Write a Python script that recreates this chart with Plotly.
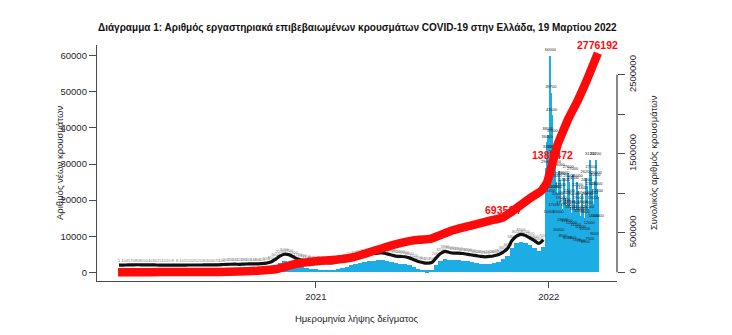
import pandas as pd
import numpy as np
import plotly.graph_objects as go

# ---------------- data ----------------
# weekly mean of new cases per day, weeks starting 2020-02-24 ... 2021-12-20
weekly_cases = [
    1, 10, 45, 70, 85, 80, 50, 40, 30, 15,
    10, 10, 8, 8, 10, 15, 20, 25, 25, 30,
    30, 40, 70, 130, 200, 230, 240, 220, 280, 310,
    340, 360, 420, 550, 850, 1600, 2500, 3000, 2900, 2300,
    1700, 1400, 1100, 850, 800,
    750, 700, 600, 650, 950, 1250, 1500, 1900, 2200, 2600,
    2900, 3100, 3200, 3300, 3400, 3100, 2800, 2500, 2400, 2300,
    2000, 1500, 1000, 700, 550, 700, 2000, 3200, 3800, 3500,
    3300, 3300, 3200, 3000, 2800, 2600, 2400, 2300, 2400, 2600,
    2900, 3600, 4600, 6800, 8000, 8500, 8200, 7500, 6800, 6000,
    7000,
]
weekly_start = "2020-02-24"

# daily new cases, 2021-12-27 ... 2022-03-19
daily_cases = [
    22000, 29000, 36000, 38000, 33000, 15000, 21000,
    60000, 49700, 43500, 37500, 33000, 22000, 17000,
    31800, 29000, 25000, 22000, 20000, 15000, 10000,
    28000, 25500, 22500, 19000, 17500, 13000, 8500,
    26000, 24000, 20500, 18500, 17000, 12500, 8000,
    27600, 25000, 21000, 18000, 16500, 12000, 7800,
    27000, 24500, 20000, 17500, 16000, 11500, 7400,
    25000, 22500, 19000, 16500, 15500, 11000, 7200,
    21800, 20500, 18000, 16000, 15000, 10500, 6900,
    26200, 24000, 20000, 17500, 16500, 12000, 7500,
    31200, 27500, 23000, 20500, 19000, 14000, 9000,
    25400, 31200, 26000, 23000, 21000, 14000,
]
daily_start = "2021-12-27"

# cumulative cases (right axis)
cum_dates = [
    "2020-02-26", "2020-04-01", "2020-05-01", "2020-06-01", "2020-07-01",
    "2020-08-01", "2020-09-01", "2020-10-01", "2020-11-01", "2020-12-01",
    "2021-01-01", "2021-02-01", "2021-03-01", "2021-04-01", "2021-05-01",
    "2021-06-01", "2021-07-01", "2021-08-01", "2021-09-01", "2021-10-01",
    "2021-10-21", "2021-11-01", "2021-12-01", "2021-12-20", "2021-12-29",
    "2022-01-07", "2022-01-15", "2022-02-01", "2022-02-15", "2022-03-01",
    "2022-03-19",
]
cum_values = [
    0, 1400, 2600, 2900, 3400,
    4500, 10300, 19600, 42000, 108000,
    140000, 158000, 192000, 270000, 345000,
    402000, 428000, 525000, 592000, 655000,
    693514, 750000, 930000, 1030000, 1130000,
    1386472, 1620000, 1950000, 2170000, 2420000,
    2776192,
]

# milestone labels on the cumulative line
milestone_dates = ["2021-10-21", "2022-01-07", "2022-03-19"]
milestone_values = [693514, 1386472, 2776192]

x_tick_vals = ["2021-01-01", "2022-01-01"]
x_tick_text = ["2021", "2022"]
y_tick_vals = [0, 10000, 20000, 30000, 40000, 50000, 60000]
y2_tick_vals = [0, 500000, 1000000, 1500000, 2000000, 2500000]
y2_tick_text = ["0", "500000", "", "1500000", "", "2500000"]

title_text = "Διάγραμμα 1: Αριθμός εργαστηριακά επιβεβαιωμένων κρουσμάτων COVID-19 στην Ελλάδα, 19 Μαρτίου 2022"
x_title = "Ημερομηνία λήψης δείγματος"
y_title = "Αριθμός νέων κρουσμάτων"
y2_title = "Συνολικός αριθμός κρουσμάτων"

# ---------------- styling ----------------
BLUE = "#1DADE5"
RED = "#FF0A0A"
AXIS = "#4a4a4a"
TXT = "#1e1e2a"
FONT = "Liberation Sans, Arial, sans-serif"
DAY_MS = 86400000
LABEL_OFFSET = 2000

w_start = pd.date_range(weekly_start, periods=len(weekly_cases), freq="7D")
w_center = w_start + pd.Timedelta(hours=84)
d_dates = pd.date_range(daily_start, periods=len(daily_cases), freq="D")
d_center = d_dates + pd.Timedelta(hours=12)

wk = np.array(weekly_cases, dtype=float)
dy = np.array(daily_cases, dtype=float)

fig = go.Figure()

fig.add_trace(go.Bar(x=w_center, y=wk, width=[7 * DAY_MS] * len(wk),
                     marker=dict(color=BLUE, line=dict(width=0)), yaxis="y"))
# daily bars drawn a little wider than a day, so neighbours merge like the reference
order = np.argsort(dy)
fig.add_trace(go.Bar(x=d_center[order], y=dy[order], width=[1.7 * DAY_MS] * len(dy),
                     marker=dict(color=BLUE, line=dict(width=0)), yaxis="y"))

# grey value labels (weekly period)
fig.add_trace(go.Scatter(x=w_center, y=wk + LABEL_OFFSET * 1.55, mode="text",
                         text=[f"{int(v)}" for v in wk],
                         textfont=dict(size=4, color="#7d7d7d", family=FONT),
                         cliponaxis=False, yaxis="y"))
# dark band of values
fig.add_trace(go.Scatter(x=w_center, y=wk + LABEL_OFFSET, mode="lines",
                         line=dict(color="#111111", width=3.2, shape="spline"),
                         yaxis="y"))
# daily value labels (late period)
fig.add_trace(go.Scatter(x=d_center, y=dy + LABEL_OFFSET * 0.8, mode="text",
                         text=[f"{int(v)}" for v in dy],
                         textfont=dict(size=4, color="#222222", family=FONT),
                         cliponaxis=False, yaxis="y"))

# cumulative line
fig.add_trace(go.Scatter(x=cum_dates, y=cum_values, mode="lines",
                         line=dict(color=RED, width=8.5, shape="spline", smoothing=0.3),
                         yaxis="y2"))

annotations = []
for d, v in zip(milestone_dates, milestone_values):
    annotations.append(dict(x=d, y=v, xref="x", yref="y2", text=f"<b>{v}</b>",
                            showarrow=False, yshift=8,
                            font=dict(color=RED, size=10.5, family=FONT)))

annotations += [
    dict(x=0.5, y=1.0, xref="paper", yref="paper", xanchor="center", yanchor="bottom",
         yshift=9, text=f"<b>{title_text}</b>", showarrow=False,
         font=dict(size=10, color="#111111", family=FONT)),
    dict(x=0.5, y=0, xref="paper", yref="paper", xanchor="center", yanchor="middle",
         yshift=-37, text=x_title, showarrow=False,
         font=dict(size=9.5, color=TXT, family=FONT)),
    dict(x=0, y=0.5, xref="paper", yref="paper", xanchor="center", yanchor="middle",
         xshift=-38, text=y_title, textangle=-90, showarrow=False,
         font=dict(size=9.5, color=TXT, family=FONT)),
    dict(x=1, y=0.5, xref="paper", yref="paper", xanchor="center", yanchor="middle",
         xshift=36, text=y2_title, textangle=-90, showarrow=False,
         font=dict(size=9.5, color=TXT, family=FONT)),
]

shapes = [
    dict(type="line", xref="paper", yref="y2", x0=1, x1=1,
         y0=y2_tick_vals[0], y1=y2_tick_vals[-1],
         line=dict(color=AXIS, width=1.3)),
]

fig.update_layout(
    width=732, height=335,
    margin=dict(l=97, r=115, t=45, b=54),
    paper_bgcolor="white", plot_bgcolor="white",
    showlegend=False, bargap=0, barmode="overlay",
    font=dict(family=FONT, color=TXT),
    annotations=annotations, shapes=shapes,
    xaxis=dict(type="date", range=["2020-01-24", "2022-04-18"],
               tickvals=x_tick_vals, ticktext=x_tick_text,
               showgrid=False, zeroline=False,
               showline=True, linecolor=AXIS, linewidth=1.3,
               ticks="outside", ticklen=6, tickcolor=AXIS,
               tickfont=dict(size=9.5, color=TXT)),
    yaxis=dict(range=[-2410, 62970], tickvals=y_tick_vals, tickformat="d",
               showgrid=False, zeroline=False,
               showline=True, linecolor=AXIS, linewidth=1.3,
               ticks="outside", ticklen=7, tickcolor=AXIS,
               tickfont=dict(size=9.5, color=TXT)),
    yaxis2=dict(range=[-110240, 2880000], overlaying="y", side="right",
                tickvals=y2_tick_vals, ticktext=y2_tick_text,
                tickangle=-90,
                showgrid=False, zeroline=False, showline=False,
                ticks="outside", ticklen=7, tickcolor=AXIS,
                tickfont=dict(size=9.5, color=TXT)),
)

fig.write_html("out.html")
